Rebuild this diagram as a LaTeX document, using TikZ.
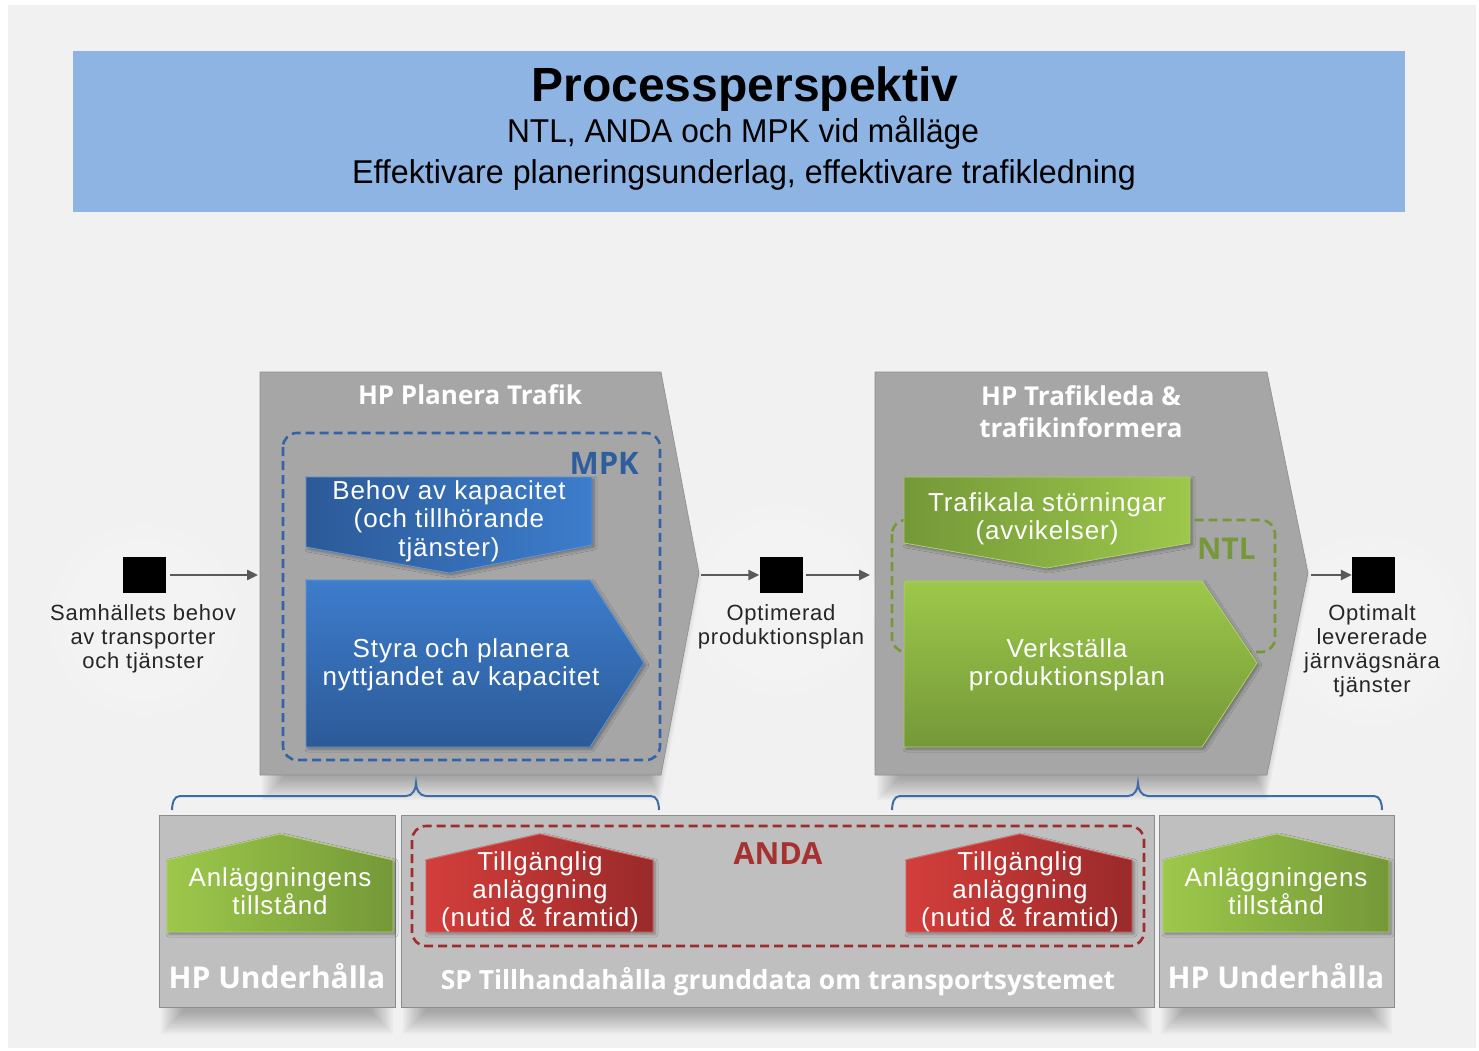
\documentclass[tikz,border=0pt]{standalone}
\usepackage{fontspec}
\setmainfont{Liberation Sans}
\newfontfamily\bfont{Liberation Sans}[LetterSpace=3.5]
\newfontfamily\hfont{Open Sans}
\usetikzlibrary{arrows.meta,shadows.blur}
\definecolor{bgc}{HTML}{F1F1F1}
\definecolor{titleb}{HTML}{8EB4E3}
\definecolor{boxg}{HTML}{A6A6A6}
\definecolor{lboxg}{HTML}{BFBFBF}
\definecolor{lboxd}{HTML}{8C8C8C}
\definecolor{mpkc}{HTML}{3363A5}
\definecolor{mpkt}{HTML}{2F5E9C}
\definecolor{ntlc}{HTML}{77973B}
\definecolor{andac}{HTML}{9E2E2E}
\definecolor{andat}{HTML}{A53131}
\definecolor{brc}{HTML}{3E6CA8}
\definecolor{arrc}{HTML}{5A5A5A}
\definecolor{bluedark}{HTML}{2C5A98}
\definecolor{bluelight}{HTML}{3D7DCC}
\definecolor{greenlight}{HTML}{9DC84B}
\definecolor{greendark}{HTML}{749838}
\definecolor{redlight}{HTML}{D33E3B}
\definecolor{reddark}{HTML}{9A2A2A}
\begin{document}
\begin{tikzpicture}[x=1pt,y=-1pt,
  smallshadow/.style={blur shadow={shadow xshift=2pt,shadow yshift=-2pt,shadow blur radius=3pt,shadow opacity=35}},
  shadowlayer/.style={fill=black,opacity=0.028},
  bigbox/.style={fill=boxg,draw=boxg!85!black,line width=0.6pt},
  lowbox/.style={fill=lboxg,draw=lboxd,line width=1pt},
  dashbox/.style={dash pattern=on 9pt off 5pt,line width=2.6pt,rounded corners=14pt},
  wtxt/.style={text=white,align=center,inner sep=0pt,font=\fontsize{26}{28.5}\bfont},
  ktxt/.style={text=black!85,align=center,inner sep=0pt,font=\fontsize{22}{24}\bfont},
  htxt/.style={text=white,align=center,inner sep=0pt,font=\fontsize{26}{32}\hfont\bfseries},
  sq/.style={fill=black,minimum width=43pt,minimum height=36pt,inner sep=0pt},
  arr/.style={draw=arrc,line width=2.6pt,-{Triangle[length=11pt,width=10pt]}},
  brace/.style={draw=brc,line width=2pt},
]
\useasboundingbox (0,0) rectangle (1479,1051);
\fill[white] (0,0) rectangle (1479,1051);
\fill[bgc] (8,5) rectangle (1476,1048);

% soft glows behind the outside labels
\foreach \cx/\cy in {144/620, 781/600, 1372/630}
  \foreach \r in {20,35,...,95}
    \fill[white,opacity=0.08] (\cx,\cy) circle[radius=\r pt];

% title
\fill[titleb] (73,51) rectangle (1405,212);
\node[anchor=base,inner sep=0pt,font=\fontsize{48}{48}\selectfont\bfseries] (title) at (745,102) {Processperspektiv};
\node[anchor=base,inner sep=0pt,font=\fontsize{33}{33}\selectfont] (sub1) at (743,143) {\scalebox{0.96}[1]{NTL, ANDA och MPK vid målläge}};
\node[anchor=base,inner sep=0pt,font=\fontsize{33}{33}\selectfont] (sub2) at (744,183) {\scalebox{0.977}[1]{Effektivare planeringsunderlag, effektivare trafikledning}};

% shadows of the big process boxes
\foreach \k in {0,...,11} {
  \fill[shadowlayer] (262+2*\k,390) -- (661-\k,390) -- (702-1.5*\k,578) -- (661-\k,800-2*\k) -- (262+2*\k,800-2*\k) -- cycle;
  \fill[shadowlayer] (877+2*\k,390) -- (1267-\k,390) -- (1311-1.5*\k,578) -- (1267-\k,800-2*\k) -- (877+2*\k,800-2*\k) -- cycle;
  \fill[shadowlayer] (161+2*\k,830) rectangle (393-2*\k,1034-2*\k);
  \fill[shadowlayer] (403+2*\k,830) rectangle (1152-2*\k,1034-2*\k);
  \fill[shadowlayer] (1161+2*\k,830) rectangle (1392-2*\k,1034-2*\k);
}

% big process boxes
\path[bigbox] (260,372) -- (661,372) -- (699,573) -- (661,775) -- (260,775) -- cycle;
\path[bigbox] (875,372) -- (1267,372) -- (1308,573) -- (1267,775) -- (875,775) -- cycle;

% bottom boxes
\path[lowbox] (159,815) rectangle (395,1007);
\path[lowbox] (401,815) rectangle (1154,1007);
\path[lowbox] (1159,815) rectangle (1394,1007);

% dashed groups
\draw[dashbox,draw=mpkc] (283,433) rectangle (660,760);
\draw[dashbox,draw=ntlc] (892,520) rectangle (1275,652);
\draw[dashbox,draw=andac] (412,826) rectangle (1144,946);

% blue shapes
\path[left color=bluedark,right color=bluelight,draw=bluelight!80!white,line width=0.8pt,smallshadow]
  (306,477) -- (592,477) -- (592,545) -- (449,573) -- (306,547) -- cycle;
\path[top color=bluelight,bottom color=bluedark,draw=bluelight!80!white,line width=0.8pt,smallshadow]
  (306,580) -- (590,580) -- (644,663) -- (590,747) -- (306,747) -- cycle;
% green shapes
\path[left color=greendark,right color=greenlight,draw=greenlight!80!white,line width=0.8pt,smallshadow]
  (904,477) -- (1190,477) -- (1190,543) -- (1047,568) -- (904,543) -- cycle;
\path[top color=greenlight,bottom color=greendark,draw=greenlight!80!white,line width=0.8pt,smallshadow]
  (904,581) -- (1202,581) -- (1257,663) -- (1202,747) -- (904,747) -- cycle;
% houses
\path[left color=greenlight,right color=greendark,draw=greenlight!80!white,line width=0.8pt,smallshadow]
  (167,860) -- (280,834) -- (393,860) -- (393,932) -- (167,932) -- cycle;
\path[left color=greenlight,right color=greendark,draw=greenlight!80!white,line width=0.8pt,smallshadow]
  (1163,860) -- (1277,834) -- (1389,860) -- (1389,932) -- (1163,932) -- cycle;
\path[left color=redlight,right color=reddark,draw=redlight!80!white,line width=0.8pt,smallshadow]
  (426,860) -- (540,834) -- (653,860) -- (653,932) -- (426,932) -- cycle;
\path[left color=redlight,right color=reddark,draw=redlight!80!white,line width=0.8pt,smallshadow]
  (906,860) -- (1020,834) -- (1132,860) -- (1132,932) -- (906,932) -- cycle;

% headings
\node[htxt,anchor=base] (hpPT) at (470,404) {HP Planera Trafik};
\node[htxt,anchor=north] (hpTT) at (1081,385) {HP Trafikleda \&\\trafikinformera};
\node[anchor=base east,inner sep=0pt,text=mpkt,font=\fontsize{31}{31}\hfont\bfseries] (mpk) at (639,474) {MPK};
\node[anchor=base east,inner sep=0pt,text=ntlc,font=\fontsize{30}{30}\hfont\bfseries] (ntl) at (1256,559) {NTL};
\node[anchor=base,inner sep=0pt,text=andat,font=\fontsize{30.5}{30}\hfont\bfseries] (anda) at (778,864) {ANDA};
\node[anchor=base,inner sep=0pt,text=white,font=\fontsize{30}{30}\hfont\bfseries] (hpU1) at (277,988) {HP Underhålla};
\node[anchor=base,inner sep=0pt,text=white,font=\fontsize{30}{30}\hfont\bfseries] (hpU2) at (1276,988) {HP Underhålla};
\node[anchor=base,inner sep=0pt,text=white,font=\fontsize{26.4}{26}\hfont\bfseries] (sp) at (778,989) {SP Tillhandahålla grunddata om transportsystemet};

% shape texts
\node[wtxt] (behov) at (449,521) {Behov av kapacitet\\(och tillhörande\\tjänster)};
\node[wtxt] (styra) at (461,665) {Styra och planera\\nyttjandet av kapacitet};
\node[wtxt] (traf) at (1047,519) {Trafikala störningar\\(avvikelser)};
\node[wtxt] (verk) at (1067,665) {Verkställa\\produktionsplan};
\node[wtxt,font=\fontsize{26}{28}\bfont] (anl1) at (280,891) {Anläggningens\\tillstånd};
\node[wtxt,font=\fontsize{26}{28}\bfont] (anl2) at (1276,891) {Anläggningens\\tillstånd};
\node[wtxt,font=\fontsize{26}{28}\bfont] (till1) at (540,892) {Tillgänglig\\anläggning\\(nutid \& framtid)};
\node[wtxt,font=\fontsize{26}{28}\bfont] (till2) at (1020,892) {Tillgänglig\\anläggning\\(nutid \& framtid)};

% squares and labels
\node[sq] (s1) at (144.5,575) {};
\node[sq] (s2) at (781,575) {};
\node[sq] (s3) at (1373.5,575) {};
\node[ktxt,anchor=north] (samh) at (143,604) {Samhällets behov\\av transporter\\och tjänster};
\node[ktxt,anchor=north] (optim) at (781,604) {Optimerad\\produktionsplan};
\node[ktxt,anchor=north] (optl) at (1372,604) {Optimalt\\levererade\\järnvägsnära\\tjänster};

% connectors
\coordinate (pIn) at (258,575);
\coordinate (pOut) at (701,575);
\coordinate (tIn) at (870,575);
\coordinate (tOut) at (1311,575);
\draw[arr,shorten <=4pt] (s1) -- (pIn);
\draw[arr] (pOut) -- (s2);
\draw[arr,shorten <=3pt] (s2) -- (tIn);
\draw[arr] (tOut) -- (s3);

% braces
\draw[brace] (172,810) to[out=90,in=180] (180,796) -- (406,796) to[out=0,in=-90] (416,783)
  to[out=-90,in=180] (426,796) -- (651,796) to[out=0,in=90] (659,810);
\draw[brace] (892,810) to[out=90,in=180] (900,796) -- (1128,796) to[out=0,in=-90] (1138,783)
  to[out=-90,in=180] (1148,796) -- (1374,796) to[out=0,in=90] (1382,810);
\end{tikzpicture}
\end{document}
